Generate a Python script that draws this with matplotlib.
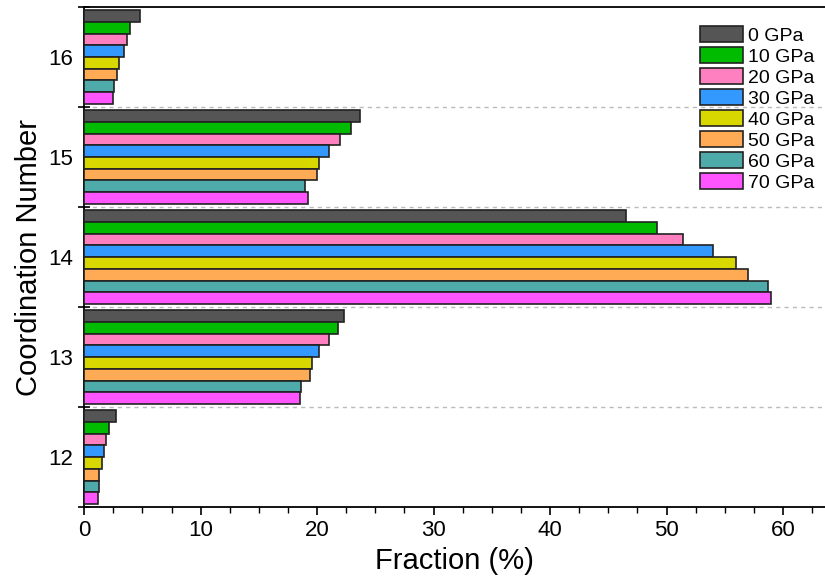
import numpy as np
import matplotlib
matplotlib.use("Agg")
import matplotlib.pyplot as plt
from matplotlib.ticker import MultipleLocator, FixedLocator

plt.rcParams['font.family'] = ['Liberation Sans', 'DejaVu Sans']

coord = [12, 13, 14, 15, 16]
pressures = ['0 GPa', '10 GPa', '20 GPa', '30 GPa', '40 GPa', '50 GPa', '60 GPa', '70 GPa']
colors = ['#555555', '#00bb00', '#ff80c0', '#3399ff', '#d8d800', '#ffaa55', '#4faaaa', '#ff55ff']

# fraction (%) per coordination number, one list per pressure
p0 = [2.7, 22.3, 46.5, 23.7, 4.8]
p10 = [2.1, 21.8, 49.2, 22.9, 3.9]
p20 = [1.9, 21.0, 51.4, 22.0, 3.7]
p30 = [1.7, 20.2, 54.0, 21.0, 3.4]
p40 = [1.5, 19.6, 56.0, 20.2, 3.0]
p50 = [1.3, 19.4, 57.0, 20.0, 2.8]
p60 = [1.3, 18.6, 58.7, 19.0, 2.6]
p70 = [1.2, 18.5, 59.0, 19.2, 2.5]
series = [p0, p10, p20, p30, p40, p50, p60, p70]

fig = plt.figure(figsize=(8.25, 5.83), dpi=100)
ax = fig.add_axes([0.102, 0.130, 0.898, 0.858])

h = 0.117
y = np.array(coord, dtype=float)
for i, (vals, lab, c) in enumerate(zip(series, pressures, colors)):
    ax.barh(y + (3.5 - i) * h, vals, height=h, color=c, edgecolor='#222222',
            linewidth=1.2, label=lab, zorder=3)

for b in [12.5, 13.5, 14.5, 15.5]:
    ax.axhline(b, color='#bbbbbb', linestyle=(0, (3, 3)), linewidth=1, zorder=1)

ax.set_xlim(0, 63.6)
ax.set_ylim(11.5, 16.5)
ax.xaxis.set_major_locator(MultipleLocator(10))
ax.xaxis.set_minor_locator(MultipleLocator(2.5))
ax.yaxis.set_major_locator(FixedLocator([11.5, 12.5, 13.5, 14.5, 15.5, 16.5]))
ax.yaxis.set_major_formatter(plt.NullFormatter())
ax.yaxis.set_minor_locator(FixedLocator(coord))
ax.yaxis.set_minor_formatter(plt.FixedFormatter([str(c) for c in coord]))
ax.tick_params(axis='y', which='major', direction='inout', length=8, width=1.2)
ax.tick_params(axis='y', which='minor', length=0, labelsize=16, pad=8)
ax.tick_params(axis='x', which='major', direction='out', length=6, width=1.2, labelsize=16)
ax.tick_params(axis='x', which='minor', direction='out', length=4, width=1)
ax.spines['right'].set_visible(False)
for s in ['left', 'bottom', 'top']:
    ax.spines[s].set_linewidth(1.3)

ax.set_xlabel('Fraction (%)', fontsize=21)
ax.set_ylabel('Coordination Number', fontsize=21)

ax.legend(loc='upper left', bbox_to_anchor=(0.831, 0.962), frameon=False, fontsize=14,
          handlelength=2.2, handleheight=0.88, labelspacing=0.12, handletextpad=0.3,
          borderpad=0, borderaxespad=0)

fig.savefig('out.png', dpi=100)
